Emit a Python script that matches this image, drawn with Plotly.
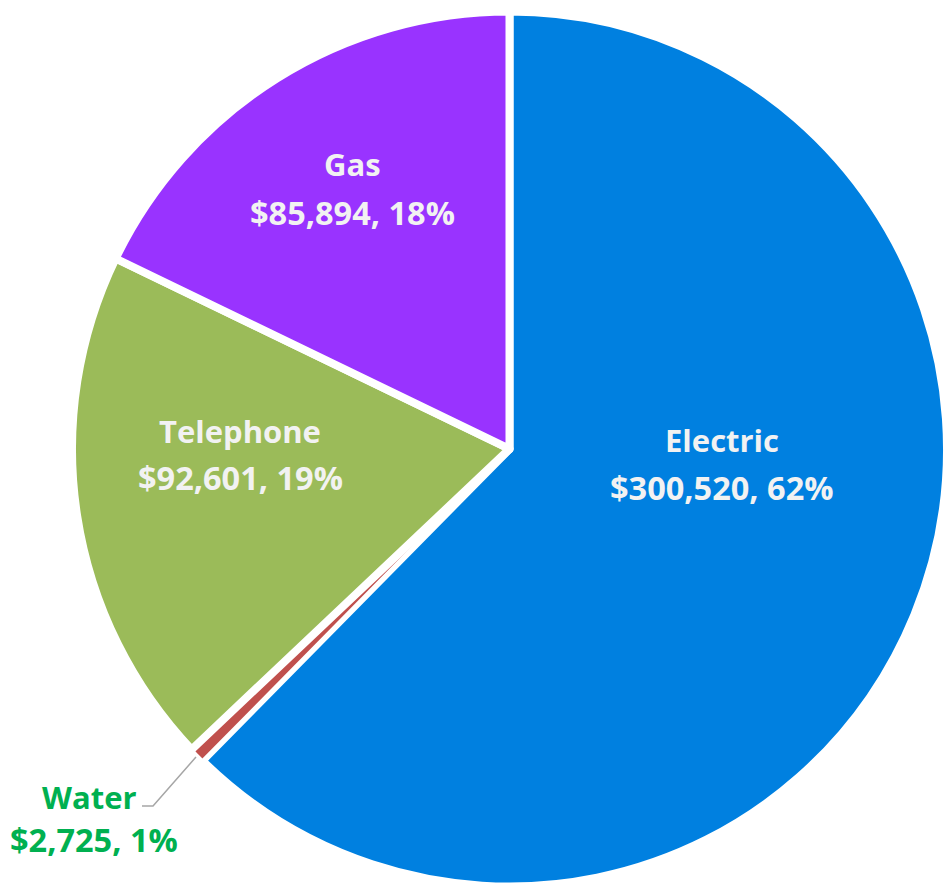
import plotly.graph_objects as go

categories = ["Electric", "Water", "Telephone", "Gas"]
values = [300520, 2725, 92601, 85894]
colors = ["#0080E0", "#C0504D", "#9BBB59", "#9933FF"]
border_widths = [8, 3, 8, 8]

total = sum(values)
value_texts = [f"${v:,}, {round(v / total * 100)}%" for v in values]

fig = go.Figure(go.Pie(
    labels=categories,
    values=values,
    sort=False,
    direction="clockwise",
    rotation=0,
    marker=dict(colors=colors, line=dict(color="white", width=border_widths)),
    textinfo="none",
    hoverinfo="skip",
))

# label placement (paper coords): name line, value line
label_pos = {
    "Electric": ((0.7429, 0.5103), (0.7429, 0.4556)),
    "Gas": ((0.3211, 0.8246), (0.3211, 0.7699)),
    "Telephone": ((0.1920, 0.5205), (0.1920, 0.4681)),
    "Water": ((0.0200, 0.1036), (0.0251, 0.0547)),
}

annotations = []
for cat, vt in zip(categories, value_texts):
    color = "#00B050" if cat == "Water" else "#F2F2F2"
    (x1, y1), (x2, y2) = label_pos[cat]
    for txt, x, y, sz in ((cat, x1, y1, 31), (vt, x2, y2, 32.5)):
        annotations.append(dict(
            text=txt, x=x, y=y, xref="paper", yref="paper",
            xanchor="center", yanchor="middle", showarrow=False,
            font=dict(family="Open Sans", size=sz, color=color, weight="bold"),
        ))

fig.update_layout(
    width=947, height=888,
    margin=dict(l=72, r=0, t=10, b=0),
    showlegend=False,
    paper_bgcolor="white",
    plot_bgcolor="white",
    annotations=annotations,
    shapes=[dict(
        type="path", xref="paper", yref="paper",
        path="M 0.1417 0.1492 L 0.0926 0.0934 L 0.0800 0.0934",
        line=dict(color="#A6A6A6", width=1.5),
    )],
)

fig.write_html(
    "out.html",
    config={"displayModeBar": False},
    post_script="document.body.style.margin='0px';",
)
